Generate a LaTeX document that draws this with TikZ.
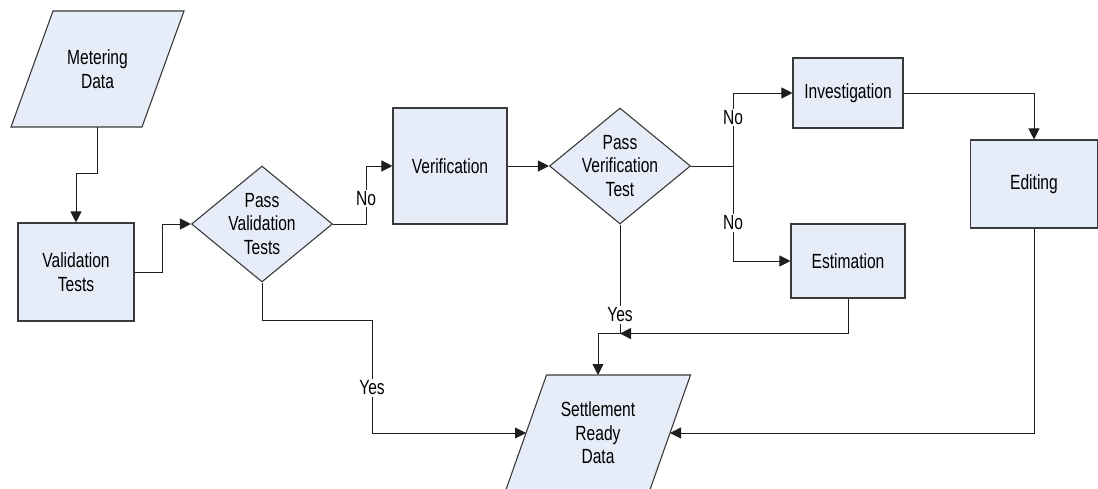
\documentclass[tikz,border=0pt]{standalone}
\usepackage{fontspec}
\setmainfont{Liberation Sans}[FakeStretch=0.76]
\usetikzlibrary{shapes.geometric,arrows.meta,calc}
\definecolor{boxfill}{HTML}{E7EDF8}
\definecolor{boxline}{HTML}{3A3A3A}
\definecolor{wire}{HTML}{1E1E1E}
\tikzset{
  base/.style={draw=boxline, fill=boxfill, line width=1.1pt, inner sep=0pt},
  rectbox/.style={base, rectangle, minimum width=#1},
  decision/.style={base, diamond, minimum width=141pt, minimum height=116pt},
  txt/.style={align=center, inner sep=0pt, font=\fontsize{20.5}{23.5}\selectfont},
  lbl/.style={fill=white, inner sep=1.5pt, font=\fontsize{20.5}{23.5}\selectfont},
  arr/.style={draw=wire, line width=0.9pt, -{Triangle[length=11pt,width=11pt]}},
  wireline/.style={draw=wire, line width=0.9pt},
}
\begin{document}
\begin{tikzpicture}[x=1pt,y=-1pt]
\useasboundingbox (0,0) rectangle (1098,489);
% parallelogram: Metering Data
\coordinate (meter) at (97.5,69);
\draw[base] ($(meter)+(-44.5,-58)$) -- ($(meter)+(86.5,-58)$)
  -- ($(meter)+(44.5,58)$) -- ($(meter)+(-86.5,58)$) -- cycle;
\coordinate (meterB) at ($(meter)+(0,58)$);
\node[txt] (metert) at (meter) {Metering\\Data};
% parallelogram: Settlement Ready Data
\coordinate (settle) at (598,433);
\draw[base] ($(settle)+(-51.5,-58)$) -- ($(settle)+(92.5,-58)$)
  -- ($(settle)+(51.5,58)$) -- ($(settle)+(-92.5,58)$) -- cycle;
\coordinate (settleL) at ($(settle)+(-72,0)$);
\coordinate (settleR) at ($(settle)+(72,0)$);
\coordinate (settleT) at ($(settle)+(0,-58)$);
\node[txt] (settlet) at (settle) {Settlement\\Ready\\Data};
% other shapes
\node[rectbox=116pt, minimum height=98pt] (valid) at (76,272) {};
\node[txt] (validt) at (valid.center) {Validation\\Tests};
\node[decision] (d1) at (262,224) {};
\node[txt] (d1t) at (d1.center) {Pass\\Validation\\Tests};
\node[rectbox=114pt, minimum height=116pt] (verif) at (450,166) {};
\node[txt] (veriff) at (verif.center) {Verification};
\node[decision] (d2) at (620,166) {};
\node[txt] (d2t) at (d2.center) {Pass\\Verification\\Test};
\node[rectbox=110pt, minimum height=70pt] (invest) at (848,93) {};
\node[txt] (investt) at (invest.center) {Investigation};
\node[rectbox=114pt, minimum height=74pt] (estim) at (848,261) {};
\node[txt] (estimt) at (estim.center) {Estimation};
\node[rectbox=127pt, minimum height=88pt] (edit) at (1034,184) {};
\node[txt] (editt) at (edit.center) {Editing};
% connectors
\draw[arr] (meterB) -- ++(0,46) -| (valid.north);
\draw[arr] (valid.east) -- ++(28,0) |- (d1.west);
\draw[arr] (d1.east) -- ++(33,0) |- node[lbl, pos=0.22] {No} (verif.west);
\draw[arr] (verif.east) -- (d2.west);
\draw[wireline] (d2.east) -- ++(42,0) coordinate (j1);
\draw[arr] (j1) |- node[lbl, pos=0.33] {No} (invest.west);
\draw[arr] (j1) |- node[lbl, pos=0.3] {No} (estim.west);
\draw[arr] (invest.east) -| (edit.north);
\draw[arr] (edit.south) |- (settleR);
\draw[arr] (d1.south) -- ++(0,38) -- ++(110,0) coordinate (y1)
  -- node[lbl, pos=0.6] {Yes} (y1 |- settleL) -- (settleL);
\draw[wireline] (d2.south) -- node[lbl, pos=0.83] {Yes} ++(0,109) coordinate (j2);
\draw[arr] (j2) -- (j2 -| settle) -- (settleT);
\draw[arr] (estim.south) |- (j2);
\end{tikzpicture}
\end{document}
